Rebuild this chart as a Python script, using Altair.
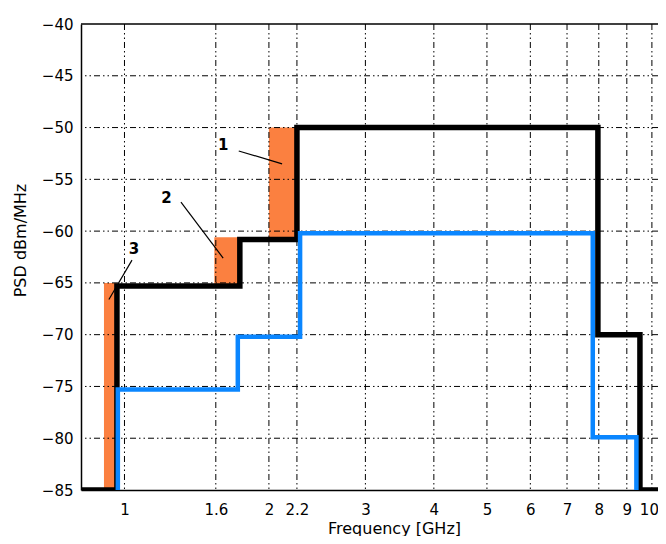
import altair as alt
import pandas as pd

# ---- data ----
x_domain = [0.908, 10.26]
y_domain = [-85, -40]

tick_vals = [1.09, 1.6, 2, 2.25, 3, 4, 5, 6, 7, 8, 9, 10]
tick_labels = ["1", "1.6", "2", "2.2", "3", "4", "5", "6", "7", "8", "9", "10"]
y_ticks = [-40, -45, -50, -55, -60, -65, -70, -75, -80, -85]
y_grid = [-45, -50, -55, -60, -65, -70, -75, -80]

black_f = [0.908, 1.056, 1.77, 2.25, 7.97, 9.51, 10.26]
black_p = [-85, -65.3, -60.8, -50, -70, -85, -85]

blue_f = [1.06, 1.06, 1.755, 2.28, 7.80, 9.37]
blue_p = [-85, -75.3, -70.2, -60.2, -79.9, -85]

bar_f1 = [1.0, 1.59, 2.0]
bar_f2 = [1.056, 1.77, 2.25]
bar_lo = [-85, -65.3, -60.6]
bar_hi = [-65, -60.6, -50]

ann_text = ["1", "2", "3"]
ann_f = [1.65, 1.30, 1.134]
ann_p = [-51.7, -56.8, -61.7]

lead_f1 = [1.762, 1.382, 1.125]
lead_p1 = [-52.26, -57.2, -62.8]
lead_f2 = [2.114, 1.65, 1.021]
lead_p2 = [-53.5, -62.6, -66.6]

# ---- tables ----
black_df = pd.DataFrame({"f": black_f, "p": black_p})
blue_df = pd.DataFrame({"f": blue_f, "p": blue_p})
bars_df = pd.DataFrame({"f": bar_f1, "f2": bar_f2, "p": bar_lo, "p2": bar_hi})
ann_df = pd.DataFrame({"t": ann_text, "f": ann_f, "p": ann_p})
lead_df = pd.DataFrame({"f": lead_f1, "p": lead_p1, "f2": lead_f2, "p2": lead_p2})
xgrid_df = pd.DataFrame({"f": tick_vals})
ygrid_df = pd.DataFrame({"p": y_grid})

FONT = "DejaVu Sans"
xs = alt.Scale(type="log", domain=x_domain, nice=False)
ys = alt.Scale(domain=y_domain, nice=False)

label_expr = "".join(
    f"abs(datum.value - {v}) < 0.001 ? '{l}' : " for v, l in zip(tick_vals, tick_labels)
) + "''"

x_axis = alt.Axis(
    values=tick_vals, labelExpr=label_expr, grid=False, ticks=False, tickSize=0,
    domain=True, domainColor="black", domainWidth=1.5,
    labelFont=FONT, labelFontSize=15, labelColor="black", labelPadding=12,
    labelFlush=False, labelOverlap=False,
    labelOffset={"condition": {"test": "datum.value == 10", "value": -3}, "value": 0},
    title="Frequency [GHz]", titleFont=FONT, titleFontSize=16, titleFontWeight="normal",
    titleColor="black", titleX=313, titleY=43, titleBaseline="alphabetic",
)
y_axis = alt.Axis(
    values=y_ticks, format="d", grid=False, ticks=False, tickSize=0,
    domain=True, domainColor="black", domainWidth=1.5,
    labelFont=FONT, labelFontSize=15, labelColor="black", labelPadding=8,
    labelFlush=False, labelOverlap=False,
    title="PSD dBm/MHz", titleFont=FONT, titleFontSize=16, titleFontWeight="normal",
    titleColor="black", titleX=-61, titleY=216, titleBaseline="middle",
)


def X(field="f"):
    return alt.X(f"{field}:Q", scale=xs, axis=x_axis, title="Frequency [GHz]")


def Y(field="p"):
    return alt.Y(f"{field}:Q", scale=ys, axis=y_axis, title="PSD dBm/MHz")


bars = alt.Chart(bars_df).mark_rect(color="#fb8040").encode(
    x=X(), x2="f2:Q", y=Y(), y2="p2:Q",
)

dash = [6, 3, 1.5, 3, 1.5, 3]
xgrid = alt.Chart(xgrid_df).mark_rule(color="black", strokeWidth=1, strokeDash=dash).encode(
    x=X()
)
ygrid = alt.Chart(ygrid_df).mark_rule(color="black", strokeWidth=1, strokeDash=dash).encode(
    y=Y()
)
top_border = alt.Chart(pd.DataFrame({"p": [-40]})).mark_rule(
    color="black", strokeWidth=1.5
).encode(y=Y())

black_line = alt.Chart(black_df).mark_line(
    color="black", strokeWidth=5.5, interpolate="step-after", strokeJoin="miter", clip=True
).encode(x=X(), y=Y())

blue_line = alt.Chart(blue_df).mark_line(
    color="#0a86ff", strokeWidth=4.5, interpolate="step-after", strokeJoin="miter", clip=True
).encode(x=X(), y=Y())

leaders = alt.Chart(lead_df).mark_rule(color="black", strokeWidth=1.2).encode(
    x=X(), y=Y(), x2="f2:Q", y2="p2:Q",
)

labels = alt.Chart(ann_df).mark_text(
    font=FONT, fontSize=15, fontWeight="bold", color="black"
).encode(x=X(), y=Y(), text="t:N")

chart = alt.layer(
    bars, xgrid, ygrid, top_border, black_line, blue_line, leaders, labels
).properties(
    width=577, height=466,
    autosize=alt.AutoSizeParams(type="none"),
    padding={"left": 73, "top": 16, "right": 0, "bottom": 46},
    background="white",
).configure_view(stroke=None)

chart.save("out.html", embed_options={"renderer": "svg", "actions": False})
